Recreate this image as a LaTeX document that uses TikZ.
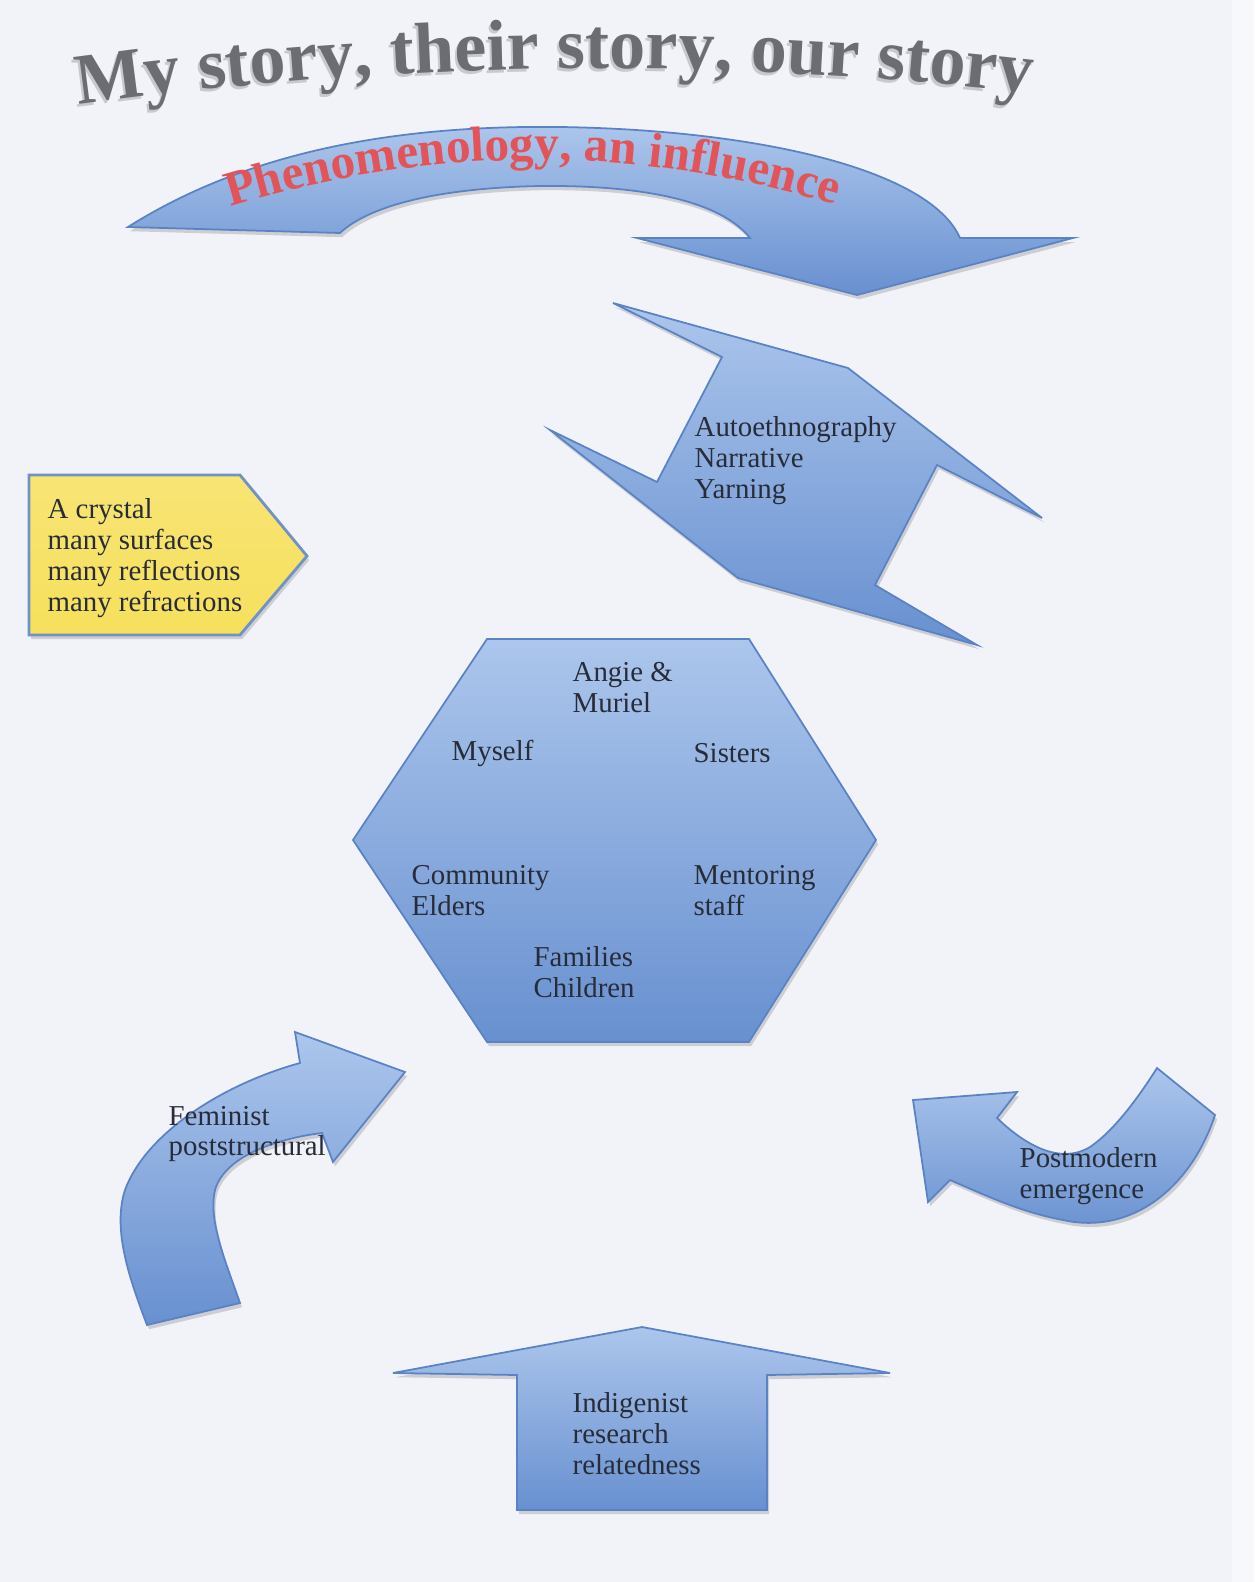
\documentclass[tikz,border=0pt]{standalone}
\usepackage{fontspec}
\setmainfont{Liberation Serif}
\newfontfamily\titlefont{Liberation Serif}
\usepackage{tikz}
\usetikzlibrary{decorations.text}
\usetikzlibrary{shadows}
\definecolor{paper}{RGB}{241,243,248}
\definecolor{paperedge}{RGB}{247,248,251}
\definecolor{bluetop}{RGB}{172,198,236}
\definecolor{bluebot}{RGB}{104,144,208}
\definecolor{blueline}{RGB}{90,130,196}
\definecolor{inkdark}{RGB}{40,44,56}
\definecolor{titlegray}{RGB}{108,109,114}
\definecolor{titleshade}{RGB}{200,201,206}
\definecolor{phenored}{RGB}{226,84,88}
\definecolor{crystalfill}{RGB}{246,224,92}
\definecolor{crystalline}{RGB}{112,146,196}
\tikzset{
blueshape/.style = {draw=blueline, line width=0.5pt, top color=bluetop, bottom color=bluebot,
                    drop shadow={shadow xshift=0.6pt, shadow yshift=-1.2pt, fill=black, opacity=0.15}},
crystalshape/.style = {draw=crystalline, line width=0.8pt, top color=crystalfill!85!white, bottom color=crystalfill,
                       drop shadow={shadow xshift=0.6pt, shadow yshift=-1.2pt, fill=black, opacity=0.15}},
lbl/.style = {anchor=west, align=left, inner sep=0pt, text=inkdark,
              font=\fontsize{8.2}{8.8}\selectfont}
}
\newcommand{\blocktext}[3]{\node[lbl] (#1) at (#2) {#3};}

\begin{document}
\begin{tikzpicture}[x=0.01cm, y=-0.01cm]
        \useasboundingbox (0,0) rectangle (1254,1582);
        \fill[paper] (0,0) rectangle (1254,1582);
        \fill[paperedge] (1232,0) rectangle (1254,1582);
        % title, bent upwards
        \path[decorate, decoration={text along path, text align=center, text color=titleshade,
              text={|\titlefont\bfseries\fontsize{20.5}{20.5}\selectfont|My story{,} their story{,} our story}}]
              (53,111) .. controls (386,63) and (720,59) .. (1053,99);
        \path[decorate, decoration={text along path, text align=center, text color=titlegray,
              text={|\titlefont\bfseries\fontsize{20.5}{20.5}\selectfont|My story{,} their story{,} our story}}]
              (55,108) .. controls (388,60) and (722,56) .. (1055,96);
        % phenomenology arrow
        \path[blueshape] (128,227) .. controls (250,150) and (400,125) .. (560,127)
              .. controls (760,130) and (930,170) .. (960,238) -- (1073,238) -- (857,295)
              -- (637,238) -- (750,238) .. controls (720,200) and (640,185) .. (540,186)
              .. controls (440,188) and (370,205) .. (340,233) -- cycle;
        \path[decorate, decoration={text along path, text align=center, text color=phenored,
              text={|\titlefont\bfseries\fontsize{14}{14}\selectfont|Phenomenology{,} an influence}}]
              (210,213) .. controls (425,143) and (640,142) .. (855,211);
        % methods shape
        \path[blueshape] (613,303) -- (848,368) -- (1042,518) -- (937,465) -- (875,585)
              -- (977,645) -- (738,578) -- (550,430) -- (657,482) -- (722,357) -- cycle;
        \blocktext{methods}{694,461}{Autoethnography\\Narrative\\Yarning}
        % crystal
        \path[crystalshape] (29,475) -- (240,475) -- (307,556) -- (240,635) -- (29,635) -- cycle;
        \blocktext{crystal}{47,558}{A crystal\\many surfaces\\many reflections\\many refractions}
        % hexagon of people
        \path[blueshape] (487,639) -- (749,639) -- (876,840) -- (749,1042) -- (487,1042) -- (353,840) -- cycle;
        \blocktext{angie}{572,688}{Angie \&\\Muriel}
        \blocktext{myself}{451,753}{Myself}
        \blocktext{sisters}{693,753}{Sisters}
        \blocktext{elders}{411,891}{Community\\Elders}
        \blocktext{mentors}{693,891}{Mentoring\\staff}
        \blocktext{families}{533,972}{Families\\Children}
        % feminist arrow
        \path[blueshape] (147,1325) .. controls (130,1280) and (112,1230) .. (125,1190)
              .. controls (145,1135) and (220,1085) .. (300,1063) -- (295,1032) -- (405,1072)
              -- (333,1162) -- (322,1133) .. controls (280,1138) and (225,1155) .. (215,1190)
              .. controls (208,1220) and (225,1260) .. (240,1303) -- cycle;
        \blocktext{feminist}{168,1134}{Feminist\\poststructural}
        % postmodern arrow
        \path[blueshape] (1157,1068) -- (1215,1115) .. controls (1190,1190) and (1130,1235) .. (1063,1220)
              .. controls (1020,1212) and (985,1195) .. (950,1180) -- (928,1202) -- (913,1100)
              -- (1017,1092) -- (997,1118) .. controls (1025,1145) and (1060,1165) .. (1090,1147)
              .. controls (1115,1130) and (1140,1095) .. (1157,1068) -- cycle;
        \blocktext{postmodern}{1019,1176}{Postmodern\\emergence}
        % indigenist arrow
        \path[blueshape] (642,1327) -- (890,1373) -- (767,1375) -- (767,1510) -- (517,1510)
              -- (517,1375) -- (393,1373) -- cycle;
        \blocktext{indigenist}{572,1434}{Indigenist\\research\\relatedness}
        \end{tikzpicture}
\end{document}
